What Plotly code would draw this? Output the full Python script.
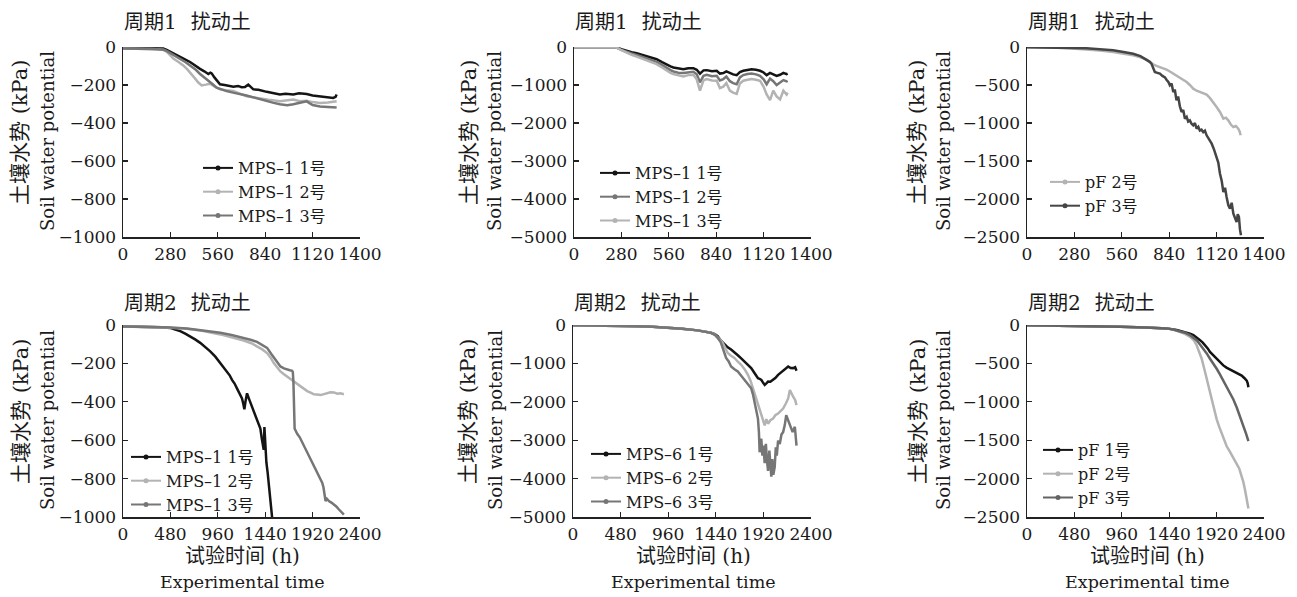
import plotly.graph_objects as go

W, H = 1297, 597

# ---------------- data ----------------
# Panel 1: 周期1 扰动土, MPS-1
p1_x1 = [0, 40, 80, 120, 160, 200, 238, 258, 278, 300, 337, 360, 396, 420, 455, 480, 504, 516, 524, 540, 553, 573, 600, 630, 652, 680, 700, 720, 740, 770, 800, 849, 880, 927, 960, 1006, 1040, 1085, 1120, 1164, 1200, 1242, 1256, 1262]
p1_y1 = [-5, -5, -6, -6, -7, -7, -8, -15, -25, -35, -52, -62, -79, -95, -115, -128, -142, -135, -139, -160, -175, -196, -200, -206, -209, -205, -212, -211, -198, -223, -225, -236, -240, -250, -246, -250, -244, -247, -255, -259, -262, -268, -262, -250]
p1_x2 = [0, 40, 80, 120, 160, 200, 240, 258, 278, 297, 330, 356, 380, 406, 425, 445, 465, 490, 514, 540, 573, 610, 652, 690, 730, 770, 809, 860, 927, 970, 1006, 1045, 1085, 1120, 1164, 1210, 1262]
p1_y2 = [-8, -8, -9, -10, -10, -12, -15, -25, -42, -61, -80, -97, -118, -142, -165, -187, -202, -198, -193, -208, -223, -228, -232, -245, -259, -265, -272, -278, -286, -280, -277, -285, -283, -290, -295, -292, -286]
p1_x3 = [0, 40, 80, 120, 160, 200, 240, 260, 278, 310, 337, 370, 396, 430, 455, 490, 504, 530, 553, 580, 612, 650, 691, 730, 770, 810, 849, 890, 927, 970, 1006, 1045, 1085, 1120, 1164, 1210, 1262]
p1_y3 = [-8, -8, -9, -10, -10, -12, -15, -22, -31, -47, -61, -80, -97, -120, -142, -165, -178, -196, -214, -224, -232, -240, -247, -255, -265, -275, -286, -294, -301, -306, -301, -292, -286, -305, -313, -316, -319]

# Panel 2: 周期1 扰动土, MPS-1 (kPa to -5000)
p2_x = [0, 60, 120, 200, 252, 280, 311, 340, 370, 400, 429, 460, 488, 520, 547, 570, 587, 615, 646, 675, 705, 725, 744, 765, 784, 815, 843, 862, 882, 900, 921, 940, 961, 980, 1000, 1025, 1049, 1075, 1099, 1120, 1138, 1158, 1177, 1197, 1217, 1237, 1256, 1262]
p2_y1 = [-10, -10, -10, -12, -15, -60, -104, -135, -165, -200, -235, -280, -322, -400, -470, -510, -539, -565, -583, -560, -557, -600, -700, -615, -609, -640, -626, -700, -687, -640, -690, -720, -740, -660, -626, -600, -583, -600, -626, -670, -740, -680, -720, -760, -730, -680, -713, -700]
p2_y2 = [-10, -10, -10, -12, -15, -75, -130, -170, -209, -250, -296, -345, -391, -470, -557, -610, -644, -675, -687, -660, -652, -720, -930, -760, -730, -770, -757, -880, -844, -780, -900, -950, -980, -800, -739, -710, -696, -720, -757, -850, -980, -830, -900, -1000, -931, -870, -905, -890]
p2_y3 = [-10, -10, -10, -12, -15, -85, -157, -205, -252, -300, -348, -400, -452, -540, -626, -680, -713, -750, -774, -740, -730, -850, -1150, -880, -844, -880, -887, -1080, -1044, -950, -1150, -1200, -1235, -960, -887, -860, -844, -860, -887, -1050, -1250, -1400, -1150, -1300, -1380, -1150, -1250, -1200]

# Panel 3: 周期1 扰动土, pF
p3_x2 = [0, 80, 154, 250, 351, 430, 509, 570, 627, 670, 706, 725, 745, 765, 785, 805, 824, 844, 864, 883, 903, 923, 943, 962, 982, 1002, 1021, 1041, 1061, 1080, 1100, 1120, 1140, 1150, 1160, 1175, 1189, 1204, 1219, 1234, 1248, 1256, 1262]
p3_y2 = [-2, -4, -8, -18, -31, -46, -66, -88, -110, -135, -167, -195, -228, -248, -263, -280, -298, -322, -351, -378, -404, -430, -461, -500, -548, -575, -592, -605, -627, -670, -724, -790, -855, -910, -943, -930, -965, -1020, -1053, -1040, -1075, -1110, -1162]
p3_x3 = [0, 80, 154, 250, 351, 430, 509, 570, 627, 670, 706, 725, 735, 745, 755, 770, 785, 800, 815, 824, 835, 844, 854, 864, 873, 883, 893, 903, 913, 923, 933, 943, 952, 962, 972, 982, 992, 1002, 1012, 1021, 1031, 1041, 1051, 1061, 1076, 1091, 1105, 1120, 1130, 1140, 1150, 1160, 1170, 1179, 1189, 1199, 1209, 1219, 1229, 1238, 1245, 1252, 1258, 1264]
p3_y3 = [-2, -4, -7, -12, -18, -30, -44, -65, -88, -120, -167, -195, -219, -280, -329, -340, -351, -380, -400, -430, -460, -504, -480, -592, -560, -702, -650, -780, -855, -830, -943, -920, -980, -965, -1010, -1031, -1000, -1075, -1050, -1100, -1088, -1120, -1100, -1162, -1210, -1272, -1350, -1447, -1520, -1667, -1760, -1908, -1850, -1974, -2080, -2127, -2050, -2193, -2250, -2303, -2200, -2237, -2400, -2478]

# Panel 4: 周期2 扰动土, MPS-1
p4_x1 = [0, 100, 200, 300, 400, 477, 530, 579, 630, 680, 730, 782, 830, 883, 935, 985, 1020, 1053, 1080, 1104, 1130, 1154, 1180, 1205, 1218, 1229, 1240, 1256, 1280, 1307, 1330, 1357, 1375, 1391, 1405, 1418, 1425, 1432, 1440, 1452, 1465, 1476, 1490, 1500, 1513, 1525]
p4_y1 = [-8, -8, -9, -10, -12, -15, -24, -32, -45, -58, -75, -93, -112, -137, -165, -198, -220, -242, -262, -286, -305, -330, -355, -382, -410, -439, -400, -356, -390, -426, -455, -488, -510, -540, -590, -628, -650, -531, -620, -716, -770, -821, -880, -944, -1005, -1080]
p4_x2 = [0, 150, 308, 480, 647, 800, 985, 1100, 1222, 1300, 1357, 1410, 1459, 1495, 1527, 1560, 1594, 1630, 1662, 1700, 1730, 1765, 1797, 1830, 1865, 1900, 1933, 1967, 2000, 2035, 2068, 2100, 2136, 2170, 2200, 2237]
p4_y2 = [-8, -9, -10, -14, -19, -30, -49, -63, -81, -95, -110, -127, -146, -170, -198, -222, -242, -256, -268, -283, -295, -310, -321, -335, -344, -352, -361, -362, -365, -360, -356, -350, -351, -358, -356, -361]
p4_x3 = [0, 150, 308, 480, 647, 800, 985, 1100, 1222, 1300, 1357, 1410, 1459, 1500, 1544, 1570, 1594, 1630, 1662, 1690, 1713, 1720, 1726, 1732, 1738, 1750, 1764, 1790, 1814, 1840, 1865, 1890, 1916, 1940, 1967, 1990, 2017, 2030, 2041, 2051, 2065, 2085, 2110, 2136, 2160, 2187, 2210, 2237]
p4_y3 = [-8, -9, -10, -13, -18, -27, -40, -52, -67, -78, -88, -102, -119, -150, -181, -200, -216, -226, -233, -236, -239, -245, -300, -420, -540, -552, -567, -585, -610, -640, -663, -690, -716, -745, -768, -790, -821, -845, -873, -917, -905, -917, -925, -935, -945, -961, -975, -988]

# Panel 5: 周期2 扰动土, MPS-6
p5_x1 = [0, 150, 300, 480, 650, 800, 985, 1100, 1256, 1330, 1391, 1430, 1459, 1490, 1527, 1560, 1594, 1630, 1662, 1696, 1730, 1764, 1797, 1830, 1865, 1882, 1899, 1916, 1933, 1950, 1967, 1990, 2017, 2040, 2068, 2090, 2119, 2145, 2170, 2195, 2220, 2240, 2254]
p5_y1 = [-5, -8, -12, -20, -30, -45, -70, -95, -140, -170, -202, -240, -289, -400, -509, -580, -640, -710, -789, -870, -947, -1040, -1123, -1250, -1386, -1400, -1430, -1500, -1561, -1520, -1474, -1480, -1430, -1380, -1298, -1250, -1193, -1150, -1079, -1120, -1123, -1100, -1193]
p5_x2 = [0, 150, 300, 480, 650, 800, 985, 1100, 1256, 1330, 1391, 1430, 1459, 1490, 1510, 1535, 1560, 1594, 1628, 1660, 1696, 1730, 1764, 1790, 1814, 1840, 1865, 1882, 1899, 1916, 1933, 1950, 1967, 1990, 2017, 2040, 2068, 2090, 2119, 2145, 2170, 2187, 2205, 2220, 2240, 2254]
p5_y2 = [-5, -8, -12, -20, -30, -45, -70, -95, -140, -170, -202, -250, -316, -400, -465, -600, -728, -800, -859, -950, -1035, -1150, -1298, -1450, -1649, -1850, -2087, -2200, -2350, -2500, -2613, -2450, -2570, -2480, -2438, -2350, -2307, -2250, -2175, -2050, -1912, -1693, -1800, -1868, -1950, -2087]
p5_x3 = [0, 150, 300, 480, 650, 800, 985, 1100, 1256, 1330, 1391, 1430, 1459, 1490, 1510, 1544, 1570, 1594, 1628, 1662, 1696, 1730, 1764, 1797, 1814, 1831, 1848, 1865, 1875, 1882, 1890, 1899, 1910, 1920, 1933, 1945, 1955, 1967, 1980, 1990, 2000, 2010, 2020, 2034, 2045, 2055, 2068, 2085, 2102, 2119, 2136, 2150, 2165, 2187, 2200, 2215, 2237, 2254]
p5_y3 = [-5, -8, -12, -20, -30, -45, -70, -95, -140, -170, -205, -260, -333, -450, -596, -859, -950, -1079, -1150, -1210, -1320, -1430, -1540, -1649, -1800, -2000, -2250, -2438, -2800, -3315, -3000, -2964, -3400, -3140, -3600, -3096, -3500, -3800, -3271, -3700, -3950, -3490, -3900, -3700, -3184, -3400, -3008, -3100, -2850, -2789, -2600, -2350, -2450, -2613, -2700, -2789, -2650, -3140]

# Panel 6: 周期2 扰动土, pF
p6_x1 = [0, 200, 480, 700, 942, 1200, 1415, 1516, 1617, 1650, 1685, 1720, 1752, 1780, 1803, 1830, 1853, 1890, 1921, 1955, 1988, 2020, 2056, 2090, 2124, 2150, 2174, 2200, 2225, 2235, 2242]
p6_y1 = [-2, -5, -10, -15, -22, -32, -44, -66, -96, -112, -132, -160, -197, -230, -263, -305, -351, -400, -439, -485, -526, -555, -579, -598, -614, -635, -658, -690, -724, -760, -811]
p6_x2 = [0, 200, 480, 700, 942, 1200, 1415, 1480, 1550, 1600, 1651, 1690, 1718, 1745, 1769, 1795, 1820, 1845, 1870, 1895, 1921, 1945, 1972, 1995, 2022, 2050, 2073, 2100, 2124, 2150, 2174, 2190, 2208, 2225, 2242]
p6_y2 = [-2, -5, -10, -15, -22, -32, -44, -60, -88, -115, -154, -200, -263, -350, -439, -570, -702, -830, -965, -1100, -1228, -1320, -1404, -1490, -1579, -1640, -1689, -1750, -1798, -1870, -1974, -2040, -2149, -2260, -2390]
p6_x3 = [0, 200, 480, 700, 942, 1200, 1415, 1480, 1550, 1600, 1651, 1690, 1718, 1750, 1786, 1820, 1853, 1890, 1921, 1955, 1988, 2020, 2056, 2090, 2124, 2160, 2191, 2220, 2242]
p6_y3 = [-2, -5, -10, -15, -22, -32, -44, -58, -79, -100, -132, -165, -197, -250, -307, -370, -439, -505, -570, -645, -724, -800, -877, -970, -1075, -1195, -1316, -1420, -1513]

# tick values
x_ticks_c1 = [0, 280, 560, 840, 1120, 1400]
x_ticks_c2 = [0, 480, 960, 1440, 1920, 2400]
y_ticks_p1 = [-1000, -800, -600, -400, -200, 0]
y_ticks_p2 = [-5000, -4000, -3000, -2000, -1000, 0]
y_ticks_p3 = [-2500, -2000, -1500, -1000, -500, 0]

titles = ["周期1\u2002\u2009扰动土", "周期1\u2002\u2009扰动土", "周期1\u2002\u2009扰动土",
          "周期2\u2002\u2009扰动土", "周期2\u2002\u2009扰动土", "周期2\u2002\u2009扰动土"]
y_title_cn = "土壤水势 (kPa)"
y_title_en = "Soil water potential"
x_title_cn = "试验时间 (h)"
x_title_en = "Experimental time"

# ---------------- styling ----------------
BLACK = "#141414"
LIGHT = "#b3b3b3"
MID = "#767676"
DARK = "#454545"
SERIF = "DejaVu Serif, Noto Sans CJK SC"
TXT = "#1a1a1a"

def px_x(p):
    return p / W

def px_y(p):
    return 1 - p / H

panels = [
    dict(xd=(123, 360), yd=(47, 237), xr=[0, 1400], xt=x_ticks_c1, yr=[-1000, 0], yt=y_ticks_p1,
         series=[("MPS–1 1号", p1_x1, p1_y1, BLACK), ("MPS–1 2号", p1_x2, p1_y2, LIGHT), ("MPS–1 3号", p1_x3, p1_y3, MID)],
         leg=(198, 151), ycn=(20, 132), yen=(47, 141)),
    dict(xd=(574, 811), yd=(47, 237), xr=[0, 1400], xt=x_ticks_c1, yr=[-5000, 0], yt=y_ticks_p2,
         series=[("MPS–1 1号", p2_x, p2_y1, BLACK), ("MPS–1 2号", p2_x, p2_y2, MID), ("MPS–1 3号", p2_x, p2_y3, LIGHT)],
         leg=(595, 156), ycn=(469, 132), yen=(494, 141)),
    dict(xd=(1027, 1264), yd=(47, 237), xr=[0, 1400], xt=x_ticks_c1, yr=[-2500, 0], yt=y_ticks_p3,
         series=[("pF 2号", p3_x2, p3_y2, LIGHT), ("pF 3号", p3_x3, p3_y3, DARK)],
         leg=(1045, 165), ycn=(917, 132), yen=(943, 141)),
    dict(xd=(123, 360), yd=(325, 517), xr=[0, 2400], xt=x_ticks_c2, yr=[-1000, 0], yt=y_ticks_p1,
         series=[("MPS–1 1号", p4_x1, p4_y1, BLACK), ("MPS–1 2号", p4_x2, p4_y2, LIGHT), ("MPS–1 3号", p4_x3, p4_y3, MID)],
         leg=(126, 440), ycn=(21, 411), yen=(47, 420), xcn=(242, 556), xen=(242, 582)),
    dict(xd=(573, 811), yd=(325, 517), xr=[0, 2400], xt=x_ticks_c2, yr=[-5000, 0], yt=y_ticks_p2,
         series=[("MPS–6 1号", p5_x1, p5_y1, BLACK), ("MPS–6 2号", p5_x2, p5_y2, LIGHT), ("MPS–6 3号", p5_x3, p5_y3, MID)],
         leg=(586, 437), ycn=(468, 411), yen=(495, 420), xcn=(693, 556), xen=(693, 582)),
    dict(xd=(1027, 1264), yd=(325, 517), xr=[0, 2400], xt=x_ticks_c2, yr=[-2500, 0], yt=y_ticks_p3,
         series=[("pF 1号", p6_x1, p6_y1, BLACK), ("pF 2号", p6_x2, p6_y2, LIGHT), ("pF 3号", p6_x3, p6_y3, "#646464")],
         leg=(1038, 433), ycn=(918, 411), yen=(943, 420), xcn=(1147, 556), xen=(1147, 582)),
]

fig = go.Figure()
layout = dict(template="none", width=W, height=H,
              margin=dict(l=0, r=0, t=0, b=0, pad=0, autoexpand=False),
              paper_bgcolor="white", plot_bgcolor="white", showlegend=True)
annotations = []

for i, p in enumerate(panels, start=1):
    sfx = "" if i == 1 else str(i)
    xa, ya = "x" + sfx, "y" + sfx
    lg = "legend" + sfx
    for name, xs, ys, col in p["series"]:
        fig.add_trace(go.Scatter(x=xs, y=ys, mode="lines", line=dict(color=col, width=2.5),
                                 xaxis=xa, yaxis=ya, showlegend=False, hoverinfo="skip"))
    for name, xs, ys, col in p["series"]:
        fig.add_trace(go.Scatter(x=[None], y=[None], mode="lines+markers", name=name,
                                 line=dict(color=col, width=2), marker=dict(color=col, size=5),
                                 xaxis=xa, yaxis=ya, legend=lg, showlegend=True))
    common = dict(showline=True, linecolor="#222", linewidth=1.5, ticks="inside", ticklen=5,
                  tickcolor="#222", tickwidth=1.2, showgrid=False, zeroline=False, automargin=False,
                  tickfont=dict(family=SERIF, size=17, color=TXT))
    layout["xaxis" + sfx] = dict(common, domain=[px_x(p["xd"][0]), px_x(p["xd"][1])], range=p["xr"],
                                 tickvals=p["xt"], anchor=ya, ticklabelstandoff=1)
    layout["yaxis" + sfx] = dict(common, domain=[px_y(p["yd"][1]), px_y(p["yd"][0])], range=p["yr"],
                                 tickvals=p["yt"], anchor=xa, ticklabelstandoff=2)
    layout[lg] = dict(x=px_x(p["leg"][0]), y=px_y(p["leg"][1]), xanchor="left", yanchor="top",
                      bgcolor="rgba(0,0,0,0)", borderwidth=0, font=dict(family=SERIF, size=16, color=TXT),
                      tracegroupgap=0, itemclick=False)
    # panel title
    ty = 22 if i <= 3 else 303
    annotations.append(dict(text=titles[i - 1], x=px_x(p["xd"][0] - 1), y=px_y(ty), xref="paper", yref="paper",
                            xanchor="left", yanchor="middle", showarrow=False,
                            font=dict(family=SERIF, size=20, color=TXT)))
    annotations.append(dict(text=y_title_cn, x=px_x(p["ycn"][0]), y=px_y(p["ycn"][1]), xref="paper", yref="paper",
                            xanchor="center", yanchor="middle", showarrow=False, textangle=-90,
                            font=dict(family=SERIF, size=21, color=TXT)))
    annotations.append(dict(text=y_title_en, x=px_x(p["yen"][0]), y=px_y(p["yen"][1]), xref="paper", yref="paper",
                            xanchor="center", yanchor="middle", showarrow=False, textangle=-90,
                            font=dict(family=SERIF, size=18, color=TXT)))
    if "xcn" in p:
        annotations.append(dict(text=x_title_cn, x=px_x(p["xcn"][0]), y=px_y(p["xcn"][1]), xref="paper", yref="paper",
                                xanchor="center", yanchor="middle", showarrow=False,
                                font=dict(family=SERIF, size=20, color=TXT)))
        annotations.append(dict(text=x_title_en, x=px_x(p["xen"][0]), y=px_y(p["xen"][1]), xref="paper", yref="paper",
                                xanchor="center", yanchor="middle", showarrow=False,
                                font=dict(family=SERIF, size=17.5, color=TXT)))

layout["annotations"] = annotations
fig.update_layout(**layout)
# the page body keeps no margin so the 1297x597 figure fills the window exactly
fig.write_html("out.html", config={"displayModeBar": False, "staticPlot": True},
               post_script="document.body.style.margin='0';document.body.style.overflow='hidden';")
